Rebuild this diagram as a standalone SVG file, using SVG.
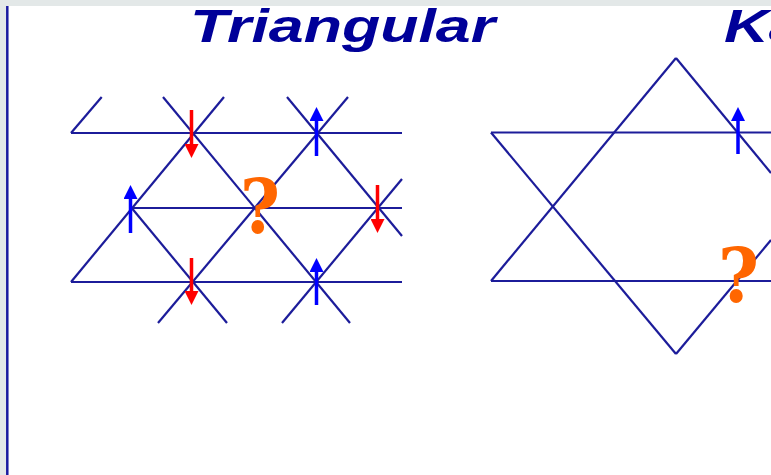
<svg xmlns="http://www.w3.org/2000/svg" width="771" height="475" viewBox="0 0 771 475">
<defs>
<style>
.ln{stroke:#1c1c9a;stroke-width:2.2;fill:none;stroke-linecap:butt}
.title{font-family:"Liberation Sans",Arial,sans-serif;font-weight:bold;font-style:italic;font-size:46px;fill:#000099}
.q{font-family:"DejaVu Serif","Liberation Serif",serif;font-weight:bold;font-size:74px;fill:#ff6600}
.up{stroke:#0000ff;stroke-width:3.5;fill:none}
.dn{stroke:#ff0000;stroke-width:3.5;fill:none}
</style>
<marker id="hb" viewBox="0 0 10 10" refX="0" refY="5" markerWidth="4" markerHeight="4" orient="auto" markerUnits="strokeWidth"><path d="M0,0 L10,5 L0,10 z" fill="#0000ff"/></marker>
<marker id="hr" viewBox="0 0 10 10" refX="0" refY="5" markerWidth="4" markerHeight="4" orient="auto" markerUnits="strokeWidth"><path d="M0,0 L10,5 L0,10 z" fill="#ff0000"/></marker>
</defs>
<rect x="0" y="0" width="771" height="475" fill="#ffffff"/>
<rect x="0" y="0" width="771" height="6" fill="#e3e8e8"/>
<rect x="0" y="0" width="6" height="475" fill="#e3e8e8"/>
<line x1="7.3" y1="6" x2="7.3" y2="475" stroke="#1a1aa0" stroke-width="2.5"/>

<text class="title" x="190" y="42" textLength="305" lengthAdjust="spacingAndGlyphs">Triangular</text>
<text class="title" transform="translate(724,42) scale(1.35,1)" x="0" y="0">Ka</text>

<g id="triangular">
<g id="tri-lattice">
<line class="ln" x1="71" y1="133" x2="402" y2="133"/>
<line class="ln" x1="131.7" y1="208" x2="402" y2="208"/>
<line class="ln" x1="71" y1="282" x2="402" y2="282"/>
<line class="ln" x1="71" y1="133" x2="101.7" y2="97"/>
<line class="ln" x1="71" y1="282" x2="224" y2="97"/>
<line class="ln" x1="158" y1="323" x2="348" y2="97"/>
<line class="ln" x1="282" y1="323" x2="402" y2="179"/>
<line class="ln" x1="163" y1="97" x2="350" y2="323"/>
<line class="ln" x1="287" y1="97" x2="402" y2="236"/>
<line class="ln" x1="131.7" y1="208" x2="227" y2="323"/>
</g>
<g id="tri-spins">
<line class="dn" x1="191.5" y1="110" x2="191.5" y2="144" marker-end="url(#hr)"/>
<line class="dn" x1="377.5" y1="185" x2="377.5" y2="219" marker-end="url(#hr)"/>
<line class="dn" x1="191.5" y1="258" x2="191.5" y2="291" marker-end="url(#hr)"/>
<line class="up" x1="316.5" y1="156" x2="316.5" y2="121" marker-end="url(#hb)"/>
<line class="up" x1="130.5" y1="233" x2="130.5" y2="199" marker-end="url(#hb)"/>
<line class="up" x1="316.5" y1="305" x2="316.5" y2="272" marker-end="url(#hb)"/>
</g>
<text class="q" x="240" y="233" textLength="40" lengthAdjust="spacingAndGlyphs">?</text>
</g>

<g id="kagome">
<g id="kag-lattice">
<line class="ln" x1="491" y1="132.5" x2="771" y2="132.5"/>
<line class="ln" x1="491" y1="281" x2="771" y2="281"/>
<line class="ln" x1="491" y1="281" x2="676" y2="58"/>
<line class="ln" x1="676" y1="58" x2="771" y2="173"/>
<line class="ln" x1="491" y1="132.5" x2="676" y2="354"/>
<line class="ln" x1="676" y1="354" x2="771" y2="240"/>
</g>
<line class="up" x1="738" y1="154" x2="738" y2="121" marker-end="url(#hb)"/>
<text class="q" x="718" y="302" textLength="41" lengthAdjust="spacingAndGlyphs">?</text>
</g>
</svg>
